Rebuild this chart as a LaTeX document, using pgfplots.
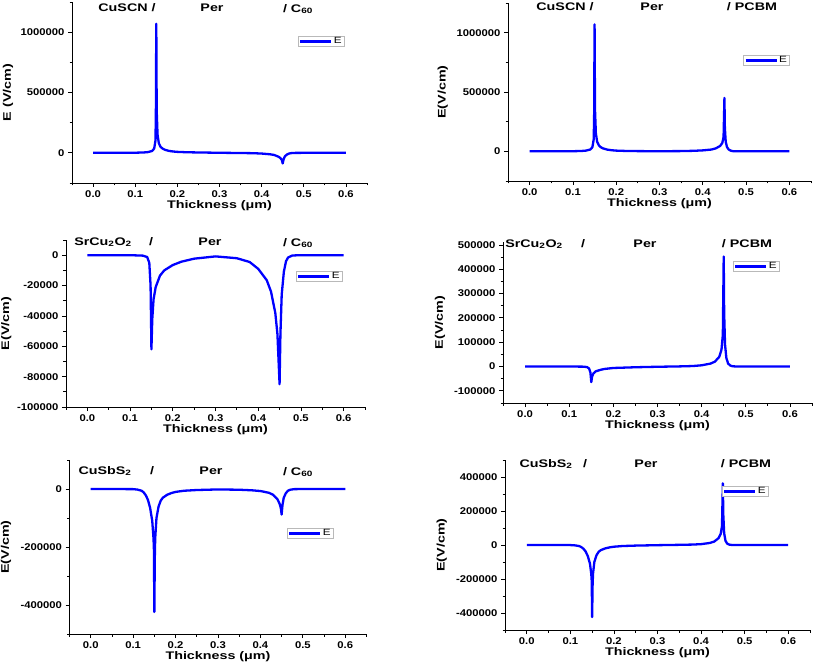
\documentclass[border=0pt]{standalone}
\usepackage{fontspec}
\setmainfont{Liberation Sans}[FakeStretch=1.3]
\newfontfamily\tickfont{Liberation Sans}[FakeStretch=1.15]
\usepackage{pgfplots}
\pgfplotsset{compat=1.18}

\definecolor{eblue}{RGB}{0,0,255}

\pgfplotsset{
  pan/.style={
    scale only axis, anchor=south west,
    axis lines=left, axis line style={-, line width=0.9pt},
    tick align=outside, tick style={line width=0.8pt, black},
    major tick length=4pt, minor tick length=2.5pt,
    xmin=-0.05, xmax=0.65,
    xtick={0,0.1,...,0.6}, minor xtick={-0.05,0.05,0.15,0.25,0.35,0.45,0.55,0.65},
    scaled y ticks=false,
    /pgf/number format/assume math mode=true,
    tick label style={font=\tickfont\bfseries\fontsize{9.8}{10}\selectfont},
    xticklabel style={/pgf/number format/.cd, fixed, fixed zerofill, precision=1},
    yticklabel style={/pgf/number format/.cd, fixed, 1000 sep={}},
    xlabel={\bfseries Thickness (μm)},
    label style={font=\bfseries\fontsize{11}{12}\selectfont},
    xlabel style={yshift=4pt},
    legend image code/.code={\draw[#1] (0pt,0pt) -- (31pt,0pt);},
    legend style={draw=gray!55, line width=0.6pt, inner xsep=1pt, inner ysep=0pt,
      font=\fontsize{9}{9}\selectfont, anchor=north west,
      nodes={inner sep=1.3pt}},
  },
  ylab/.style={ylabel style={at={(axis description cs:#1,0.5)}, anchor=center}},
  eline/.style={eblue, line width=2.3pt, no marks, line join=round},
}
\tikzset{ttl/.style={font=\bfseries\fontsize{11}{12}\selectfont, inner sep=0pt}}

\begin{document}
\begin{tikzpicture}[x=1pt,y=1pt]
\path[use as bounding box] (0,0) rectangle (813,667);

% ---- top left: CuSCN / Per / C60
\begin{axis}[pan, at={(72pt,484pt)}, width=295pt, height=181pt,
  ymin=-250000, ymax=1250000,
  ytick={0,500000,1000000}, minor ytick={-250000,250000,750000,1250000},
  ylabel={E (V/cm)}, ylab=-0.217,
  legend style={at={(0.766,0.812)}}]
\addplot[eline] coordinates {
 (0,0) (0.05,0) (0.1,1000) (0.12,3000) (0.13,6000) (0.14,15000) (0.145,35000)
 (0.148,100000) (0.149,300000) (0.15,1070000) (0.151,350000) (0.153,150000)
 (0.156,80000) (0.16,50000) (0.165,35000) (0.17,26000) (0.18,16000) (0.19,11000)
 (0.2,8000) (0.22,5000) (0.25,3000) (0.3,500) (0.35,-1500) (0.38,-3000)
 (0.4,-6000) (0.42,-12000) (0.43,-18000) (0.44,-32000) (0.445,-45000)
 (0.448,-60000) (0.45,-88000) (0.452,-55000) (0.455,-30000) (0.46,-14000)
 (0.465,-6000) (0.47,-2500) (0.48,-500) (0.5,0) (0.55,0) (0.6,0)
};
\addlegendentry{E}
\end{axis}

% ---- top right: CuSCN / Per / PCBM
\begin{axis}[pan, at={(508pt,486pt)}, width=303pt, height=178pt,
  ymin=-250000, ymax=1250000,
  ytick={0,500000,1000000}, minor ytick={-250000,250000,750000,1250000},
  ylabel={E(V/cm)}, ylab=-0.215,
  legend style={at={(0.776,0.708)}}]
\addplot[eline] coordinates {
 (0,0) (0.05,0) (0.1,1000) (0.12,3000) (0.13,6000) (0.14,15000) (0.145,35000)
 (0.148,100000) (0.149,300000) (0.15,1070000) (0.151,350000) (0.153,150000)
 (0.156,80000) (0.16,50000) (0.165,33000) (0.17,24000) (0.18,14000) (0.19,9000)
 (0.2,6000) (0.22,3500) (0.25,1800) (0.3,800) (0.35,2000) (0.38,4500)
 (0.4,8000) (0.42,15000) (0.43,25000) (0.44,45000) (0.445,70000)
 (0.448,120000) (0.45,450000) (0.451,200000) (0.453,80000) (0.456,35000)
 (0.46,15000) (0.465,5000) (0.47,1500) (0.48,0) (0.5,0) (0.55,0) (0.6,0)
};
\addlegendentry{E}
\end{axis}

% ---- middle left: SrCu2O2 / Per / C60
\begin{axis}[pan, at={(66pt,260pt)}, width=299pt, height=167pt,
  ymin=-100000, ymax=10000,
  ytick={-100000,-80000,...,0}, minor ytick={-90000,-70000,...,10000},
  ylabel={E(V/cm)}, ylab=-0.2,
  legend style={at={(0.769,0.814)}}]
\addplot[eline] coordinates {
 (0,0) (0.05,0) (0.1,0) (0.13,-300) (0.14,-1200) (0.145,-5000) (0.148,-20000)
 (0.15,-62000) (0.152,-42000) (0.155,-29000) (0.16,-21000) (0.17,-13500)
 (0.18,-10000) (0.2,-6500) (0.22,-4300) (0.25,-2300) (0.3,-800) (0.35,-2000)
 (0.38,-4500) (0.4,-9000) (0.42,-16500) (0.43,-24000) (0.44,-38000)
 (0.445,-52000) (0.45,-85000) (0.452,-52000) (0.455,-26000) (0.46,-11000)
 (0.465,-4000) (0.47,-1500) (0.48,-200) (0.5,0) (0.55,0) (0.6,0)
};
\addlegendentry{E}
\end{axis}

% ---- middle right: SrCu2O2 / Per / PCBM
\begin{axis}[pan, at={(503pt,264pt)}, width=309pt, height=161pt,
  ymin=-150000, ymax=512000,
  ytick={-100000,0,...,500000}, minor ytick={-150000,-50000,...,450000},
  ylabel={E(V/cm)}, ylab=-0.204,
  legend style={at={(0.744,0.882)}}]
\addplot[eline] coordinates {
 (0,0) (0.05,0) (0.1,0) (0.13,-500) (0.14,-2000) (0.145,-8000) (0.148,-25000)
 (0.15,-64000) (0.152,-40000) (0.155,-28000) (0.16,-20000) (0.17,-14000)
 (0.18,-10000) (0.2,-6000) (0.25,-3000) (0.3,-1000) (0.35,500) (0.38,2000)
 (0.4,5000) (0.42,12000) (0.43,20000) (0.44,40000) (0.445,70000)
 (0.448,130000) (0.45,452000) (0.451,220000) (0.453,90000) (0.456,35000)
 (0.46,12000) (0.465,4000) (0.47,1000) (0.48,0) (0.5,0) (0.55,0) (0.6,0)
};
\addlegendentry{E}
\end{axis}

% ---- bottom left: CuSbS2 / Per / C60
\begin{axis}[pan, at={(69.5pt,33pt)}, width=297pt, height=174pt,
  ymin=-500000, ymax=100000,
  ytick={-400000,-200000,0}, minor ytick={-500000,-300000,-100000,100000},
  ylabel={E(V/cm)}, ylab=-0.214,
  legend style={at={(0.732,0.609)}}]
\addplot[eline] coordinates {
 (0,0) (0.05,0) (0.1,-500) (0.11,-2000) (0.12,-6000) (0.125,-12000)
 (0.13,-22000) (0.135,-38000) (0.14,-65000) (0.145,-110000) (0.148,-170000)
 (0.149,-210000) (0.15,-424000) (0.151,-240000) (0.152,-170000)
 (0.155,-100000) (0.16,-60000) (0.165,-40000) (0.17,-30000) (0.18,-20000)
 (0.19,-14000) (0.2,-10000) (0.22,-6000) (0.25,-3500) (0.3,-1500)
 (0.35,-2500) (0.38,-4500) (0.4,-7000) (0.42,-13000) (0.43,-20000)
 (0.44,-35000) (0.445,-50000) (0.448,-65000) (0.45,-88000) (0.452,-55000)
 (0.455,-30000) (0.46,-14000) (0.465,-6000) (0.47,-2500) (0.48,-500)
 (0.5,0) (0.55,0) (0.6,0)
};
\addlegendentry{E}
\end{axis}

% ---- bottom right: CuSbS2 / Per / PCBM
\begin{axis}[pan, at={(505pt,37pt)}, width=305pt, height=170pt,
  ymin=-500000, ymax=500000,
  ytick={-400000,-200000,...,400000}, minor ytick={-500000,-300000,...,500000},
  ylabel={E(V/cm)}, ylab=-0.207,
  legend style={at={(0.711,0.847)}}]
\addplot[eline] coordinates {
 (0,0) (0.05,0) (0.1,-500) (0.11,-2000) (0.12,-6000) (0.125,-12000)
 (0.13,-22000) (0.135,-38000) (0.14,-65000) (0.145,-110000) (0.148,-170000)
 (0.149,-210000) (0.15,-424000) (0.151,-240000) (0.152,-170000)
 (0.155,-100000) (0.16,-60000) (0.165,-40000) (0.17,-30000) (0.18,-20000)
 (0.19,-14000) (0.2,-10000) (0.22,-6000) (0.25,-3500) (0.3,-1000)
 (0.35,1000) (0.38,2500) (0.4,5000) (0.42,12000) (0.43,20000) (0.44,40000)
 (0.445,65000) (0.448,110000) (0.45,363000) (0.451,180000) (0.453,70000)
 (0.456,25000) (0.46,8000) (0.465,2000) (0.47,500) (0.48,0) (0.5,0)
 (0.55,0) (0.6,0)
};
\addlegendentry{E}
\end{axis}

% ---- layer captions
\node[ttl] at (127,659) {CuSCN /};
\node[ttl] at (212,659) {Per};
\node[ttl] at (298,658) {/ C\textsubscript{60}};
\node[ttl] at (565,660) {CuSCN /};
\node[ttl] at (652,660) {Per};
\node[ttl] at (752,660) {/ PCBM};
\node[ttl] at (103,425) {SrCu\textsubscript{2}O\textsubscript{2}};
\node[ttl] at (151,425) {/};
\node[ttl] at (210,425) {Per};
\node[ttl] at (298,424) {/ C\textsubscript{60}};
\node[ttl] at (534,423) {SrCu\textsubscript{2}O\textsubscript{2}};
\node[ttl] at (583,423) {/};
\node[ttl] at (645,423) {Per};
\node[ttl] at (747,423) {/ PCBM};
\node[ttl] at (105,196) {CuSbS\textsubscript{2}};
\node[ttl] at (152,196) {/};
\node[ttl] at (211,196) {Per};
\node[ttl] at (298,195) {/ C\textsubscript{60}};
\node[ttl] at (546,203) {CuSbS\textsubscript{2}};
\node[ttl] at (585,203) {/};
\node[ttl] at (646,203) {Per};
\node[ttl] at (746,203) {/ PCBM};
\end{tikzpicture}
\end{document}
